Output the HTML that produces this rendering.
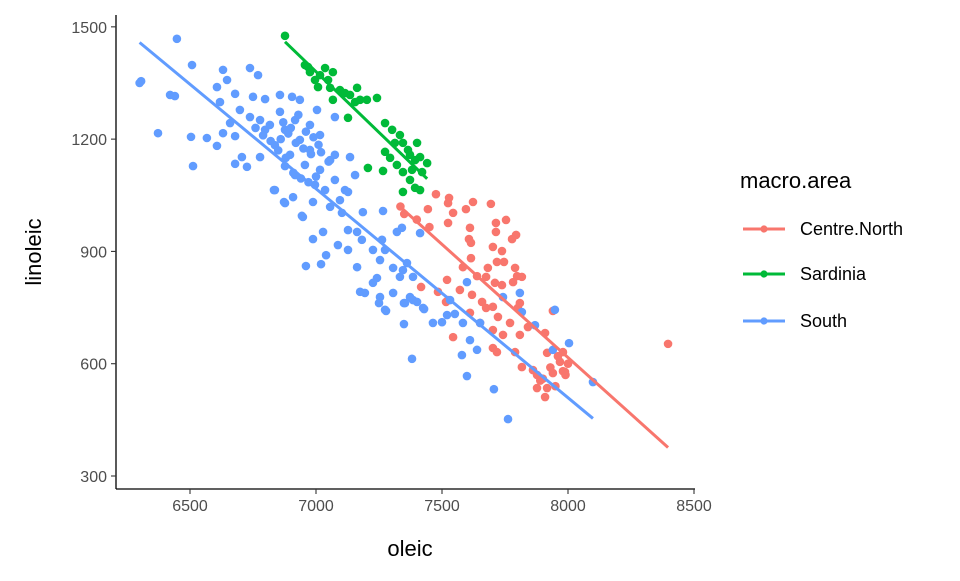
<!DOCTYPE html>
<html><head><meta charset="utf-8"><style>
body{margin:0;background:#fff;}
svg text{font-family:"Liberation Sans",Arial,sans-serif;}
</style></head><body>
<svg id="chart" width="960" height="576" xmlns="http://www.w3.org/2000/svg">
<g id="pts"></g>
<g id="lines"></g>
<g id="axes"></g>
<text x="410" y="556" font-size="22" text-anchor="middle" fill="#000">oleic</text>
<text transform="translate(41,252) rotate(-90)" font-size="22" text-anchor="middle" fill="#000">linoleic</text>
<g>
<text x="740" y="188" font-size="22" fill="#000">macro.area</text>
<g id="legend"></g>
</g>
</svg>
<script>
const groups = ["Centre.North","Sardinia","South"];
const colors = ["#F8766D","#00BA38","#619CFF"];
const xTicks = [6500,7000,7500,8000,8500];
const yTicks = [300,600,900,1200,1500];
const cnOleic = [7476,7528,7524,7623,7694,7444,7544,7595,7524,7611,7714,7754,7714,7794,7778,7607,7615,7702,7738,7615,7718,7746,7583,7682,7790,7798,7817,7639,7675,7782,7710,7738,7520,7417,7484,7571,7619,7524,7659,7702,7675,7809,7801,7940,7611,7722,7770,7651,7841,7702,7742,7809,7909,7544,7702,7718,7790,7917,7980,7968,7817,7861,7877,7988,7877,7917,7909,8397,7516,7335,7350,7400,7450,7900,7950,7980,8000,7960,7930,7890,7940,7990];
const cnLinoleic = [1053,1043,1029,1032,1027,1013,1003,1013,976,963,976,984,952,944,933,933,923,912,901,882,872,872,858,856,856,834,832,834,832,818,816,810,824,805,792,797,784,770,765,752,749,762,749,741,736,725,709,709,698,690,677,677,682,671,642,631,631,629,631,605,591,583,570,578,535,535,511,653,765,1020,1000,985,965,560,540,580,600,620,590,555,575,570];
const saOleic = [6877,6968,7036,7067,7008,7056,7067,7115,7163,7155,7202,7242,7127,7274,7313,7274,7345,7401,7373,7413,7441,7321,7345,7381,7421,7206,7266,7345,7393,7413,7373,6956,6976,7016,6996,7048,7095,7135,7175,7302,7333,7365,7294,7393];
const saLinoleic = [1476,1393,1390,1379,1339,1337,1305,1323,1337,1299,1305,1310,1257,1243,1190,1166,1190,1190,1158,1152,1136,1131,1112,1118,1112,1123,1115,1059,1070,1064,1091,1398,1379,1371,1358,1358,1331,1318,1305,1225,1211,1171,1150,1144];
const soOleic = [6448,6306,6508,6631,6647,6738,6770,6421,6440,6607,6679,6750,6798,6857,6905,7004,7075,6373,6504,6567,6607,6631,6679,6512,6679,6726,6706,6778,6833,6873,6909,6944,6659,6698,6619,6738,6778,6817,6877,6917,6936,6976,7016,6897,6956,7016,7056,6996,7036,6837,6857,6976,6917,7075,7115,7095,6798,6936,6877,6837,6877,6988,6948,7056,7103,7135,7075,7127,7155,7266,7186,7028,6988,7127,7163,7087,7127,7182,7040,7020,6960,7163,7226,7254,7262,7321,7341,7413,7306,7361,7333,7242,7226,7175,7194,7254,7250,7278,7306,7373,7349,7401,7429,7349,7464,7500,7520,7551,7381,7274,7345,7385,7274,7353,7385,7425,7583,7599,7742,7809,7817,7869,7948,7611,7639,7579,7599,7706,7762,8004,8099,7940,7651,7532,6300,6860,6890,6920,6950,6980,7010,6870,6900,6930,6960,6990,7020,7050,6850,6880,6910,6940,6970,7000,6760,6790,6820];
const soLinoleic = [1468,1355,1398,1385,1358,1390,1371,1318,1315,1339,1321,1313,1307,1318,1313,1278,1259,1216,1206,1203,1182,1216,1208,1128,1134,1126,1152,1152,1064,1032,1045,995,1243,1278,1299,1259,1251,1238,1225,1251,1198,1171,1211,1158,1131,1118,1144,1078,1064,1184,1273,1238,1104,1091,1064,1037,1225,1305,1128,1064,1029,1032,992,1019,1003,1152,1158,1059,1104,1008,1005,952,933,957,952,917,904,931,890,866,861,858,904,877,931,952,963,949,856,869,832,829,816,792,789,778,762,741,789,778,762,765,746,706,709,711,730,733,613,904,850,832,744,762,770,749,709,818,778,789,738,703,744,663,637,623,567,532,452,655,551,637,709,770,1350,1200,1215,1190,1175,1160,1185,1245,1230,1265,1220,1205,1165,1140,1170,1150,1110,1095,1085,1100,1230,1210,1195];
const xs=[cnOleic,saOleic,soOleic], ys=[cnLinoleic,saLinoleic,soLinoleic];
const X=v=>190+(v-6500)*0.252;
const Y=v=>476-(v-300)*0.3743;
const NS="http://www.w3.org/2000/svg";
function mk(t,a,p){const e=document.createElementNS(NS,t);for(const k in a)e.setAttribute(k,a[k]);p.appendChild(e);return e;}
const pts=document.getElementById('pts'), lines=document.getElementById('lines'), axes=document.getElementById('axes'), leg=document.getElementById('legend');
for(let g=0;g<3;g++){
  for(let i=0;i<xs[g].length;i++){
    const c=mk('circle',{cx:X(xs[g][i]),cy:Y(ys[g][i]),r:4.3,fill:colors[g]},pts);
    
    
  }
}
for(let g=0;g<3;g++){
  const a=xs[g],b=ys[g],n=a.length;
  let mx=0,my=0;for(let i=0;i<n;i++){mx+=a[i];my+=b[i];}mx/=n;my/=n;
  let sxy=0,sxx=0;for(let i=0;i<n;i++){sxy+=(a[i]-mx)*(b[i]-my);sxx+=(a[i]-mx)**2;}
  const s=sxy/sxx, x0=Math.min(...a), x1=Math.max(...a);
  const l=mk('line',{x1:X(x0),y1:Y(my+s*(x0-mx)),x2:X(x1),y2:Y(my+s*(x1-mx)),stroke:colors[g],'stroke-width':3},lines);
  
  
}
const xa=mk('line',{x1:116,y1:489,x2:695,y2:489,stroke:'#000','stroke-width':1.3},axes);


const ya=mk('line',{x1:116,y1:15,x2:116,y2:489,stroke:'#000','stroke-width':1.3},axes);


xTicks.forEach(v=>{
  mk('line',{x1:X(v),y1:489,x2:X(v),y2:494,stroke:'#333','stroke-width':1.1},axes);
  const t=mk('text',{x:X(v),y:511,'font-size':16,'text-anchor':'middle',fill:'#4d4d4d'},axes);t.textContent=v;
  
  
});
yTicks.forEach(v=>{
  mk('line',{x1:111,y1:Y(v),x2:116,y2:Y(v),stroke:'#333','stroke-width':1.1},axes);
  const t=mk('text',{x:107,y:Y(v)+6,'font-size':16,'text-anchor':'end',fill:'#4d4d4d'},axes);t.textContent=v;
  
  
});
const ly=[229,274,321];
groups.forEach((g,i)=>{
  const e=mk('g',{},leg);
  
  
  mk('line',{x1:743,y1:ly[i],x2:785,y2:ly[i],stroke:colors[i],'stroke-width':3},e);
  mk('circle',{cx:764,cy:ly[i],r:3.6,fill:colors[i]},e);
  const t=mk('text',{x:800,y:ly[i]+6,'font-size':18,fill:'#000'},e);t.textContent=g;
});
</script>
</body></html>
